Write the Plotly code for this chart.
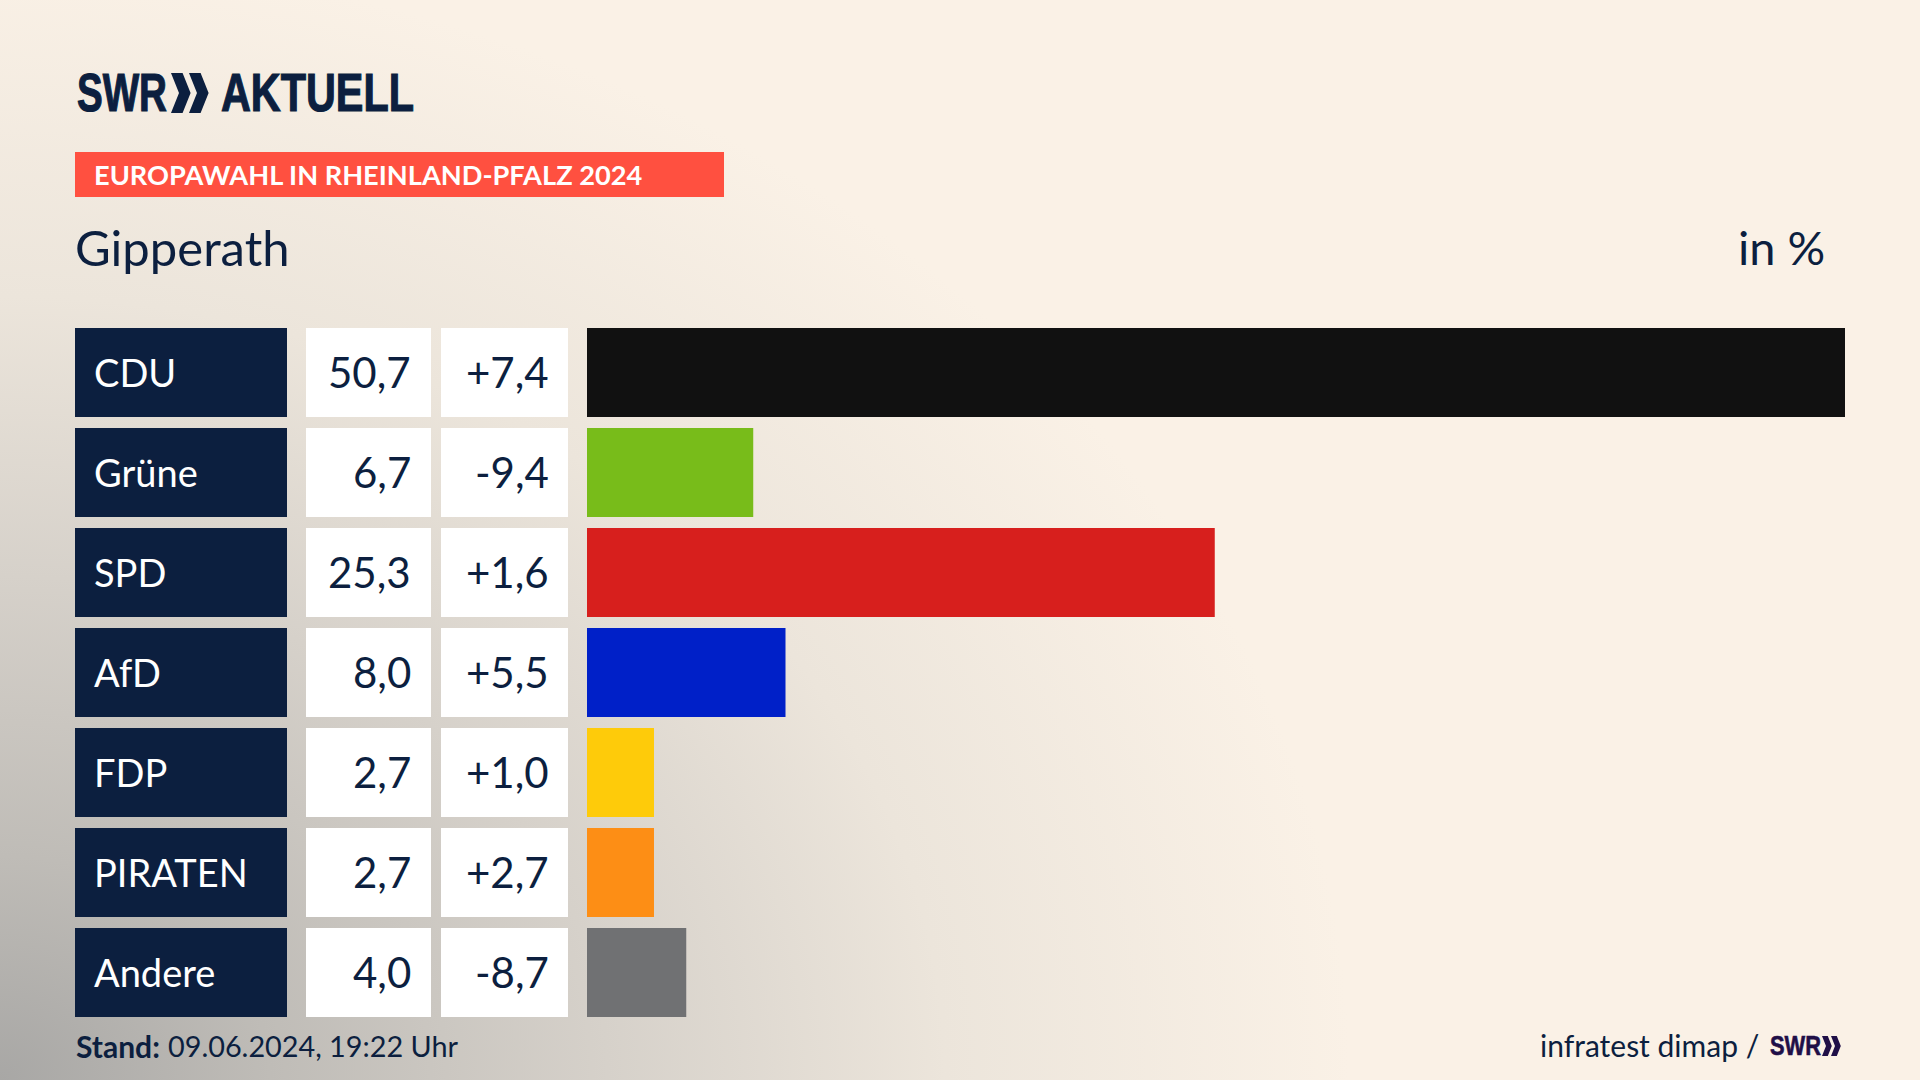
import base64
import plotly.graph_objects as go

W = 1920
H = 1080

parties = ["CDU", "Grüne", "SPD", "AfD", "FDP", "PIRATEN", "Andere"]
shares = [50.7, 6.7, 25.3, 8.0, 2.7, 2.7, 4.0]
share_labels = ["50,7", "6,7", "25,3", "8,0", "2,7", "2,7", "4,0"]
change_labels = ["+7,4", "-9,4", "+1,6", "+5,5", "+1,0", "+2,7", "-8,7"]
party_colors = ["#111111", "#78bc1a", "#d71f1d", "#0020c8", "#fecb0a", "#fd8e15", "#707173"]

NAVY = "#0c1f3f"
BODY_FONT = "Lato"
LOGO_FONT = "Liberation Sans"

# soft grey corner of the background
bg_svg = """<svg xmlns="http://www.w3.org/2000/svg" width="1920" height="1080" viewBox="0 0 1920 1080">
<defs>
<radialGradient id="a" gradientUnits="userSpaceOnUse" cx="0" cy="0" r="1" gradientTransform="translate(0 1080) scale(1350 1120)">
<stop offset="0" stop-color="#a8a7a5"/>
<stop offset="0.2" stop-color="#bfbcb7"/>
<stop offset="0.45" stop-color="#d6d1ca"/>
<stop offset="0.7" stop-color="#ece5db"/>
<stop offset="1" stop-color="#faf1e6"/>
</radialGradient>
</defs>
<rect width="1920" height="1080" fill="#faf1e6"/>
<rect width="1920" height="1080" fill="url(#a)"/>
</svg>"""
bg_uri = "data:image/svg+xml;base64," + base64.b64encode(bg_svg.encode()).decode()

# the SWR lettering is condensed, no installed font is that narrow, so squeeze it to these widths
squeeze_js = """
function squeezeLogo() {
  var targets = [['SWR', 27, 51, 0.6], ['SWR', 54, 90, 1.2], ['AKTUELL', 54, 193, 1.2]];
  document.querySelectorAll('.annotation-text').forEach(function (t) {
    targets.forEach(function (g) {
      if (t.textContent === g[0] && parseFloat(t.style.fontSize) === g[1]) {
        t.style.transform = '';
        var box = t.getBBox();
        t.style.transformBox = 'fill-box';
        t.style.transformOrigin = 'left center';
        t.style.transform = 'scaleX(' + (g[2] / box.width) + ')';
        t.style.stroke = t.style.fill;
        t.style.strokeWidth = g[3] + 'px';
      }
    });
  });
}
document.body.style.margin = '0';
document.body.style.overflow = 'hidden';
squeezeLogo();
setTimeout(squeezeLogo, 100);
"""


def px_x(x):
    return x / W


def px_y(y):
    return 1 - y / H


def label(text, x, y, size, color=NAVY, anchor="left", font=BODY_FONT, yref="paper", yshift=0):
    fig.add_annotation(
        text=text,
        x=px_x(x),
        y=y if yref == "y" else px_y(y),
        xref="paper",
        yref=yref,
        xanchor=anchor,
        yanchor="middle",
        yshift=yshift,
        showarrow=False,
        align=anchor,
        borderpad=0,
        font=dict(family=font, size=size, color=color),
    )


def chevrons(x, y, h, color):
    # the two arrows of the SWR mark, x/y is the top left corner
    tip = h * 0.2
    thick = h * 0.29
    for dx in (0, h * 0.45):
        pts = [(x + dx, y), (x + dx + thick, y), (x + dx + thick + tip, y + h / 2),
               (x + dx + thick, y + h), (x + dx, y + h), (x + dx + tip, y + h / 2)]
        path = "M " + " L ".join(f"{px_x(a):.5f},{px_y(b):.5f}" for a, b in pts) + " Z"
        fig.add_shape(type="path", path=path, xref="paper", yref="paper",
                      fillcolor=color, line_width=0, layer="above")


fig = go.Figure()

# name and number cells, one bar per row on their own little axes
fig.add_trace(go.Bar(y=parties, x=[1] * 7, orientation="h", xaxis="x2", yaxis="y",
                     marker=dict(color=NAVY, line_width=0), width=0.89, hoverinfo="skip"))
fig.add_trace(go.Bar(y=parties, x=[1] * 7, orientation="h", xaxis="x3", yaxis="y",
                     marker=dict(color="white", line_width=0), width=0.89, hoverinfo="skip"))
fig.add_trace(go.Bar(y=parties, x=[1] * 7, orientation="h", xaxis="x4", yaxis="y",
                     marker=dict(color="white", line_width=0), width=0.89, hoverinfo="skip"))

# the result bars
fig.add_trace(go.Bar(y=parties, x=shares, orientation="h", xaxis="x", yaxis="y",
                     marker=dict(color=party_colors, line_width=0), width=0.89))

hidden = dict(visible=False, fixedrange=True, anchor="y")
fig.update_layout(
    width=W,
    height=H,
    margin=dict(l=0, r=0, t=0, b=0),
    paper_bgcolor="#faf1e6",
    plot_bgcolor="rgba(0,0,0,0)",
    showlegend=False,
    barmode="overlay",
    xaxis=dict(domain=[px_x(587), px_x(1845)], range=[0, 50.7], **hidden),
    xaxis2=dict(domain=[px_x(75), px_x(287)], range=[0, 1], **hidden),
    xaxis3=dict(domain=[px_x(306), px_x(431)], range=[0, 1], **hidden),
    xaxis4=dict(domain=[px_x(441), px_x(568)], range=[0, 1], **hidden),
    yaxis=dict(visible=False, type="category", categoryorder="array", categoryarray=parties,
               range=[6.5, -0.5], domain=[px_y(1022.5), px_y(322.5)], fixedrange=True),
    images=[dict(source=bg_uri, xref="paper", yref="paper", x=0, y=1, sizex=1, sizey=1,
                 xanchor="left", yanchor="top", sizing="stretch", layer="below")],
)

# header
label("<b>SWR</b>", 76, 92, 54, font=LOGO_FONT)
chevrons(171, 73, 40, NAVY)
label("<b>AKTUELL</b>", 220, 92, 54, font=LOGO_FONT)

fig.add_shape(type="rect", xref="paper", yref="paper", x0=px_x(75), x1=px_x(724),
              y0=px_y(197), y1=px_y(152), fillcolor="#ff5040", line_width=0, layer="below")
label("<b>EUROPAWAHL IN RHEINLAND-PFALZ 2024</b>", 93, 175, 27.2, color="white")
label("Gipperath", 74, 247, 49)
label("in %", 1826, 247, 47, anchor="right")

# rows
for party, share, change in zip(parties, share_labels, change_labels):
    label(party, 93, party, 38, color="white", yref="y", yshift=1)
    label(share, 412, party, 42, anchor="right", yref="y", yshift=1)
    label(change, 550, party, 42, anchor="right", yref="y", yshift=1)

# footer
label("<b>Stand:</b>", 75, 1046, 30)
label("09.06.2024, 19:22 Uhr", 167, 1046, 28.8)
label("infratest dimap /", 1760, 1045, 30, anchor="right")
label("<b>SWR</b>", 1769, 1046, 27, color="#1f0f47", font=LOGO_FONT)
chevrons(1822, 1036, 20, "#1f0f47")

fig.write_html("out.html", config=dict(displayModeBar=False), post_script=squeeze_js)
